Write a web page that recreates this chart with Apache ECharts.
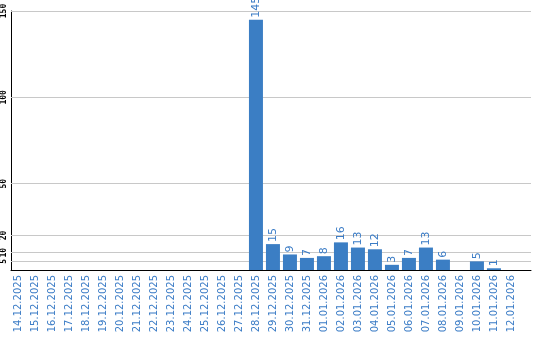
<!DOCTYPE html>
<html>
<head>
<meta charset="utf-8">
<script src="https://cdn.jsdelivr.net/npm/echarts@6/dist/echarts.min.js"></script>
<style>
html,body{margin:0;padding:0;background:#fff;}
#c{width:540px;height:340px;}
</style>
</head>
<body>
<div id="c"></div>
<script>
var categories = ["14.12.2025","15.12.2025","16.12.2025","17.12.2025","18.12.2025","19.12.2025","20.12.2025","21.12.2025","22.12.2025","23.12.2025","24.12.2025","25.12.2025","26.12.2025","27.12.2025","28.12.2025","29.12.2025","30.12.2025","31.12.2025","01.01.2026","02.01.2026","03.01.2026","04.01.2026","05.01.2026","06.01.2026","07.01.2026","08.01.2026","09.01.2026","10.01.2026","11.01.2026","12.01.2026"];
var values = [null,null,null,null,null,null,null,null,null,null,null,null,null,null,145,15,9,7,8,16,13,12,3,7,13,6,null,5,1,null];
var yTicks = [5,10,20,50,100,150];

var chart = echarts.init(document.getElementById('c'), null, {renderer:'canvas'});
var idx = categories.map(function(c,i){return i;});
var option = {
  animation:false,
  backgroundColor:'#fff',
  grid:{left:11, right:9, top:11, bottom:70, containLabel:false},
  xAxis:{
    type:'value', min:-0.41, max:30.18,
    splitLine:{show:false},
    axisTick:{show:false},
    axisLine:{show:true, onZero:false, lineStyle:{color:'#000', width:1}},
    axisLabel:{
      customValues: idx,
      rotate:90, margin:5,
      color:'#3b7cc6', fontSize:10, fontFamily:'DejaVu Sans',
      formatter:function(v){ return categories[Math.round(v)] || ''; }
    }
  },
  yAxis:{
    type:'value', min:0, max:150, interval:5,
    splitLine:{show:false},
    axisTick:{show:false},
    axisLine:{show:true, onZero:false, lineStyle:{color:'#000', width:1}},
    axisLabel:{
      customValues: yTicks,
      rotate:90, margin:3,
      color:'#000', fontSize:8, fontWeight:'bold', fontFamily:'DejaVu Sans Mono'
    }
  },
  series:[{
    type:'bar',
    barWidth:14,
    z:2,
    itemStyle:{color:'#3b7ec4'},
    label:{
      show:true, position:'top', rotate:90, align:'left', verticalAlign:'middle',
      distance:2, color:'#3b7cc6', fontSize:11, fontFamily:'DejaVu Sans'
    },
    data: values.map(function(v,i){ return [i, v]; }),
    markLine:{
      silent:true, z:1, symbol:['none','none'],
      label:{show:false},
      lineStyle:{color:'#c8c8c8', type:'solid', width:1},
      data: yTicks.map(function(t){ return {yAxis:t}; })
    }
  }]
};
chart.setOption(option);
</script>
</body>
</html>
